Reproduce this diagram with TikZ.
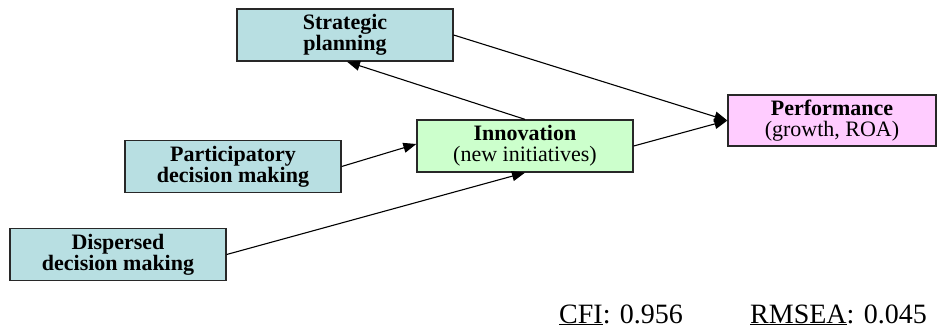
\documentclass[tikz,border=0pt]{standalone}
\usepackage{fontspec}
\setmainfont{Liberation Serif}
\usetikzlibrary{arrows.meta}
\definecolor{boxblue}{RGB}{184,223,226}
\definecolor{boxgreen}{RGB}{204,255,204}
\definecolor{boxpink}{RGB}{255,204,255}
\definecolor{edgegray}{RGB}{40,40,40}
\tikzset{
  x=1pt,y=-1pt,
  box/.style={draw=edgegray, line width=1.3pt, inner sep=0pt, minimum width=216pt,
    minimum height=52pt, align=center, font=\fontsize{22}{21}\selectfont},
  conn/.style={line width=1.1pt, draw=black, -{Triangle[length=13pt,width=10pt]}},
  fit/.style={font=\fontsize{28}{30}\selectfont, anchor=base west, inner sep=0pt}
}
\begin{document}
\begin{tikzpicture}
\useasboundingbox (0,0) rectangle (938,330);
\node[box, fill=boxblue] (strat) at (345,35) {\textbf{Strategic}\\\textbf{planning}};
\node[box, fill=boxblue] (part) at (233,166.5) {\textbf{Participatory}\\\textbf{decision making}};
\node[box, fill=boxblue] (disp) at (118,254.5) {\textbf{Dispersed}\\\textbf{decision making}};
\node[box, fill=boxgreen] (inn) at (525,146) {\textbf{Innovation}\\(new initiatives)};
\node[box, fill=boxpink, minimum width=208pt, minimum height=51pt] (perf) at (832,120.5) {\textbf{Performance}\\(growth, ROA)};
\draw[conn] (strat.east) -- (perf.west);
\draw[conn] (inn.east) -- (perf.west);
\draw[conn] (inn.north) -- ([xshift=2pt]strat.south);
\draw[conn] (part.east) -- ([yshift=2pt]inn.west);
\draw[conn] (disp.east) -- (inn.south);
\node[fit] (cfi) at (559,323) {\underline{CFI}: 0.956};
\node[fit] (rmsea) at (750,323) {\underline{RMSEA}: 0.045};
\end{tikzpicture}
\end{document}
